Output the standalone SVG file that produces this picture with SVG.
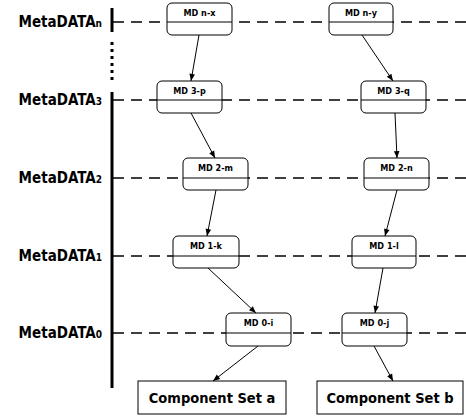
<svg xmlns="http://www.w3.org/2000/svg" width="466" height="416" viewBox="0 0 466 416">
<style>
.lbl{font-family:"DejaVu Sans Condensed","DejaVu Sans","Liberation Sans",sans-serif;font-weight:bold;font-size:15px;fill:#000}
.sub{font-size:10px}
.md{font-family:"DejaVu Sans Condensed","DejaVu Sans","Liberation Sans",sans-serif;font-weight:bold;font-size:9px;fill:#000;text-anchor:middle}
.box{fill:#fff;stroke:#000;stroke-width:1}
.div{stroke:#000;stroke-width:1}
.dash{stroke:#000;stroke-width:1.5;stroke-dasharray:11,7;fill:none}
.arr{stroke:#000;stroke-width:1;fill:none;marker-end:url(#ah)}
.comp{font-family:"DejaVu Sans Condensed","DejaVu Sans","Liberation Sans",sans-serif;font-weight:bold;font-size:14.5px;fill:#000;text-anchor:middle}
</style>
<defs>
<marker id="ah" viewBox="0 0 10 10" refX="10" refY="5" markerWidth="8" markerHeight="7" orient="auto" markerUnits="userSpaceOnUse">
<path d="M0,1 L10,5 L0,9 Z" fill="#000"/>
</marker>
</defs>
<rect width="466" height="416" fill="#fff"/>
<g id="axis">
<line x1="112" y1="8" x2="112" y2="32" stroke="#000" stroke-width="3"/>
<line x1="112" y1="42" x2="112" y2="84" stroke="#000" stroke-width="3" stroke-dasharray="3,4"/>
<line x1="112" y1="92" x2="112" y2="388" stroke="#000" stroke-width="3"/>
</g>
<g id="levels">
<line class="dash" x1="113" y1="22" x2="466" y2="22"/>
<line class="dash" x1="113" y1="100" x2="466" y2="100"/>
<line class="dash" x1="113" y1="178" x2="466" y2="178"/>
<line class="dash" x1="113" y1="256" x2="466" y2="256"/>
<line class="dash" x1="113" y1="333" x2="466" y2="333"/>
</g>
<g id="labels">
<text class="lbl" x="102" y="27" text-anchor="end">MetaDATA<tspan class="sub">n</tspan></text>
<text class="lbl" x="102" y="105" text-anchor="end">MetaDATA<tspan class="sub">3</tspan></text>
<text class="lbl" x="102" y="183" text-anchor="end">MetaDATA<tspan class="sub">2</tspan></text>
<text class="lbl" x="102" y="261" text-anchor="end">MetaDATA<tspan class="sub">1</tspan></text>
<text class="lbl" x="102" y="338" text-anchor="end">MetaDATA<tspan class="sub">0</tspan></text>
</g>
<g id="connectors">
<line class="arr" x1="199" y1="35" x2="191" y2="81"/>
<line class="arr" x1="362" y1="35" x2="393" y2="81"/>
<line class="arr" x1="191" y1="113" x2="215" y2="158"/>
<line class="arr" x1="395" y1="113" x2="397" y2="158"/>
<line class="arr" x1="216" y1="190" x2="207" y2="236"/>
<line class="arr" x1="397" y1="190" x2="385" y2="236"/>
<line class="arr" x1="208" y1="268" x2="256" y2="313"/>
<line class="arr" x1="383" y1="268" x2="375" y2="313"/>
<line class="arr" x1="258" y1="346" x2="213" y2="381"/>
<line class="arr" x1="374" y1="346" x2="393" y2="381"/>
</g>
<g id="md-n-x"><rect class="box" x="167" y="3" width="65" height="32" rx="5"/><line class="div" x1="167" y1="22" x2="232" y2="22"/><text class="md" x="199.5" y="16">MD n-x</text></g>
<g id="md-n-y"><rect class="box" x="329" y="3" width="64" height="32" rx="5"/><line class="div" x1="329" y1="22" x2="393" y2="22"/><text class="md" x="361" y="16">MD n-y</text></g>
<g id="md-3-p"><rect class="box" x="157" y="81" width="65" height="32" rx="5"/><line class="div" x1="157" y1="100" x2="222" y2="100"/><text class="md" x="189.5" y="94">MD 3-p</text></g>
<g id="md-3-q"><rect class="box" x="361" y="81" width="65" height="32" rx="5"/><line class="div" x1="361" y1="100" x2="426" y2="100"/><text class="md" x="393.5" y="94">MD 3-q</text></g>
<g id="md-2-m"><rect class="box" x="183" y="158" width="65" height="32" rx="5"/><line class="div" x1="183" y1="178" x2="248" y2="178"/><text class="md" x="215.5" y="171">MD 2-m</text></g>
<g id="md-2-n"><rect class="box" x="364" y="158" width="65" height="32" rx="5"/><line class="div" x1="364" y1="178" x2="429" y2="178"/><text class="md" x="396.5" y="171">MD 2-n</text></g>
<g id="md-1-k"><rect class="box" x="173" y="236" width="66" height="32" rx="5"/><line class="div" x1="173" y1="256" x2="239" y2="256"/><text class="md" x="206" y="249">MD 1-k</text></g>
<g id="md-1-l"><rect class="box" x="352" y="236" width="64" height="32" rx="5"/><line class="div" x1="352" y1="256" x2="416" y2="256"/><text class="md" x="384" y="249">MD 1-l</text></g>
<g id="md-0-i"><rect class="box" x="226" y="313" width="65" height="33" rx="5"/><line class="div" x1="226" y1="333" x2="291" y2="333"/><text class="md" x="258.5" y="326">MD 0-i</text></g>
<g id="md-0-j"><rect class="box" x="342" y="313" width="65" height="33" rx="5"/><line class="div" x1="342" y1="333" x2="407" y2="333"/><text class="md" x="374.5" y="326">MD 0-j</text></g>
<g id="comp-a"><rect class="box" x="138" y="381" width="148" height="33"/><text class="comp" x="212" y="403">Component Set a</text></g>
<g id="comp-b"><rect class="box" x="317" y="381" width="146" height="33"/><text class="comp" x="390" y="403">Component Set b</text></g>
</svg>
